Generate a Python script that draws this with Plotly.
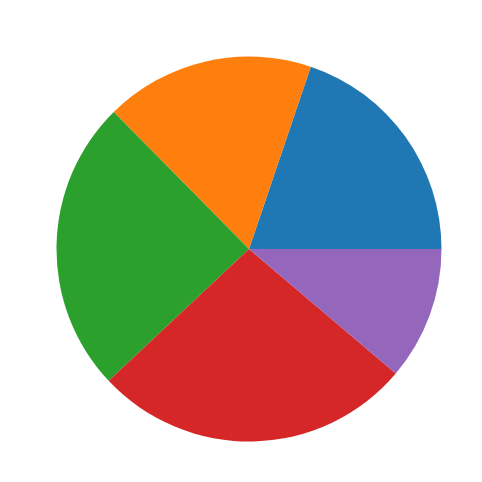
import plotly.graph_objects as go

labels = ['A', 'B', 'C', 'D', 'E']
values = [19.8, 17.6, 24.6, 26.8, 11.2]
colors = ['#1f77b4', '#ff7f0e', '#2ca02c', '#d62728', '#9467bd']

# counterclockwise pies in plotly put the first slice's far edge at `rotation`,
# so shift it back by the first slice's share to start it at 3 o'clock
rotation = 90 - 360 * values[0] / sum(values)

fig = go.Figure()
fig.add_trace(
    go.Pie(
        labels=labels,
        values=values,
        sort=False,
        direction='counterclockwise',
        rotation=rotation,
        textinfo='none',
        hoverinfo='label+percent',
        marker=dict(colors=colors, line=dict(width=0)),
        domain=dict(x=[48.5 / 482, 433.5 / 482], y=[48.5 / 482, 433.5 / 482]),
    )
)

fig.update_layout(
    width=482,
    height=482,
    margin=dict(l=0, r=0, t=0, b=0),
    showlegend=False,
    paper_bgcolor='white',
    plot_bgcolor='white',
)

fig.write_html("out.html")
